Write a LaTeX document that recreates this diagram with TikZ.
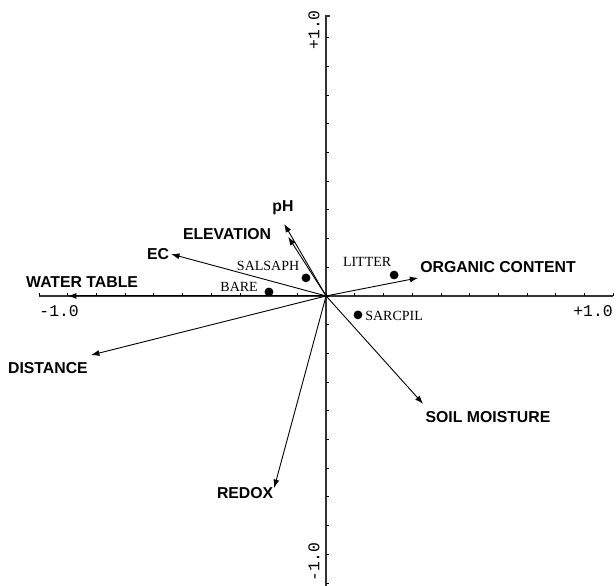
\documentclass[tikz,border=0pt]{standalone}
\usepackage{fontspec}
\setmainfont{Liberation Serif}
\setsansfont{Liberation Sans}
\setmonofont{Liberation Mono}
\usetikzlibrary{arrows.meta}

\begin{document}
\begin{tikzpicture}[x=143.5pt, y=143.5pt,
  var/.style={font=\sffamily\bfseries\fontsize{7.9}{9}\selectfont, inner sep=1pt},
  spc/.style={font=\fontsize{7}{8}\selectfont, inner sep=1pt},
  vec/.style={-{Latex[length=4.2pt,width=3pt]}, line width=0.45pt},
  axl/.style={font=\ttfamily\fontsize{8.2}{9}\selectfont, inner sep=0pt}]
\useasboundingbox (-1.136,-1.010) rectangle (1.010,1.031);
% axes
\draw[line width=0.6pt, black!80] (-1,0) -- (1,0);
\draw[line width=0.6pt, black!80] (0,-1.01) -- (0,0.975) -- (0.012,0.975);
\foreach \t in {-10,...,10} \draw[line width=0.4pt] (\t/10,0) -- (\t/10,0.01);
\foreach \t in {-10,...,9} \draw[line width=0.4pt] (0,\t/10) -- (0.01,\t/10);
\node[axl] (xl) at (-0.930,-0.052) {-1.0};
\node[axl] (xr) at (0.930,-0.052) {+1.0};
\node[axl, rotate=90] (yt) at (-0.042,0.927) {+1.0};
\node[axl, rotate=90] (yb) at (-0.042,-0.927) {-1.0};

\coordinate (o) at (0,0);
% environmental vectors
\coordinate (wtE) at (-0.899,0);
\coordinate (diE) at (-0.819,-0.206);
\coordinate (ecE) at (-0.540,0.146);
\coordinate (elE) at (-0.132,0.206);
\coordinate (phE) at (-0.146,0.251);
\coordinate (ocE) at (0.321,0.063);
\coordinate (smE) at (0.338,-0.376);
\coordinate (rdE) at (-0.181,-0.669);
\foreach \e in {wtE,diE,ecE,elE,phE,ocE,smE,rdE}
  \draw[vec] (o) -- (\e);

\node[var] (wt) at (-0.850,0.049) {WATER TABLE};
\node[var] (di) at (-0.969,-0.251) {DISTANCE};
\node[var] (ec) at (-0.585,0.146) {EC};
\node[var] (el) at (-0.345,0.216) {ELEVATION};
\node[var] (ph) at (-0.150,0.307) {pH};
\node[var] (oc) at (0.599,0.101) {ORGANIC CONTENT};
\node[var] (sm) at (0.564,-0.422) {SOIL MOISTURE};
\node[var] (rd) at (-0.282,-0.686) {REDOX};

% species
\fill (-0.070,0.063) circle (2.2pt) coordinate (sal);
\fill (-0.199,0.014) circle (2.2pt) coordinate (bar);
\fill (0.237,0.073) circle (2.2pt) coordinate (lit);
\fill (0.111,-0.066) circle (2.2pt) coordinate (sar);
\node[spc] (salT) at (-0.202,0.105) {SALSAPH};
\node[spc] (barT) at (-0.303,0.031) {BARE};
\node[spc] (litT) at (0.143,0.118) {LITTER};
\node[spc] (sarT) at (0.237,-0.069) {SARCPIL};
\end{tikzpicture}
\end{document}
